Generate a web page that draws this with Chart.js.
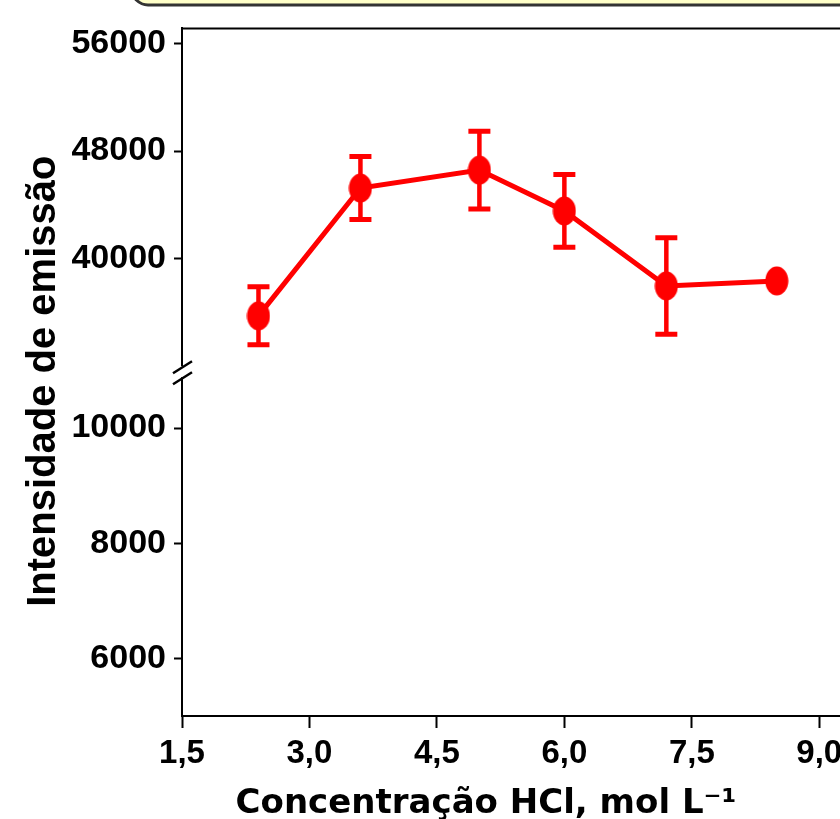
<!DOCTYPE html>
<html>
<head>
<meta charset="utf-8">
<script src="https://cdn.jsdelivr.net/npm/chart.js@4/dist/chart.umd.min.js"></script>
<style>
  html, body { margin: 0; padding: 0; background: #fff; overflow: hidden; }
  #wrap { width: 900px; height: 819px; }
</style>
</head>
<body>
<div id="wrap"><canvas id="myChart" width="900" height="819"></canvas></div>
<script>
// dados
const concentracao = [2.4, 3.6, 5.0, 6.0, 7.2, 8.5];
const intensidade = [35780, 45260, 46590, 43560, 38000, 38370];
const desvio = [2150, 2330, 2890, 2700, 3580, 0];
const xTicks = [1.5, 3.0, 4.5, 6.0, 7.5, 9.0];
const yTicksTop = [40000, 48000, 56000];
const yTicksBottom = [6000, 8000, 10000];

const red = '#ff0000';

// marcador eliptico
const dot = document.createElement('canvas');
dot.width = 24; dot.height = 30;
const dctx = dot.getContext('2d');
dctx.fillStyle = red;
dctx.beginPath();
dctx.ellipse(12, 15, 11.5, 14.5, 0, 0, Math.PI * 2);
dctx.fill();

const errorBars = {
  id: 'errorBars',
  beforeDatasetsDraw(chart) {
    const ctx = chart.ctx;
    const meta = chart.getDatasetMeta(0);
    const ys = chart.scales.yTop;
    ctx.save();
    ctx.strokeStyle = red;
    meta.data.forEach((pt, i) => {
      const e = desvio[i];
      if (!e) return;
      const top = ys.getPixelForValue(intensidade[i] + e);
      const bot = ys.getPixelForValue(intensidade[i] - e);
      ctx.lineWidth = 4.5;
      ctx.beginPath();
      ctx.moveTo(pt.x, top); ctx.lineTo(pt.x, bot);
      ctx.stroke();
      ctx.lineWidth = 5;
      ctx.beginPath();
      ctx.moveTo(pt.x - 11, top); ctx.lineTo(pt.x + 11, top);
      ctx.moveTo(pt.x - 11, bot); ctx.lineTo(pt.x + 11, bot);
      ctx.stroke();
    });
    ctx.restore();
  }
};

const decor = {
  id: 'decor',
  afterDraw(chart) {
    const ctx = chart.ctx;
    const a = chart.chartArea;
    ctx.save();
    // caixa do titulo (cortada no topo)
    ctx.fillStyle = '#ffffc8';
    ctx.strokeStyle = '#333';
    ctx.lineWidth = 3;
    ctx.beginPath();
    ctx.roundRect(132, -40, 820, 45, 16);
    ctx.fill();
    ctx.stroke();
    // linha superior do quadro
    ctx.strokeStyle = '#000';
    ctx.lineWidth = 2;
    ctx.beginPath();
    ctx.moveTo(a.left - 1, a.top); ctx.lineTo(a.right, a.top);
    ctx.stroke();
    // quebra do eixo
    const yb = Math.min(chart.scales.yTop.bottom, chart.scales.yBottom.bottom);
    ctx.fillStyle = '#fff';
    ctx.fillRect(a.left - 4, yb - 6, 8, 11);
    ctx.lineWidth = 2.5;
    ctx.beginPath();
    ctx.moveTo(a.left - 9, yb + 1); ctx.lineTo(a.left + 10, yb - 11);
    ctx.moveTo(a.left - 9, yb + 12); ctx.lineTo(a.left + 10, yb);
    ctx.stroke();
    // titulo do eixo y
    ctx.fillStyle = '#000';
    ctx.translate(44, (a.top + a.bottom) / 2 + 9);
    ctx.rotate(-Math.PI / 2);
    ctx.font = 'bold 40px "Liberation Sans", Arial, sans-serif';
    ctx.textAlign = 'center';
    ctx.textBaseline = 'middle';
    ctx.fillText('Intensidade de emissão', 0, 0);
    ctx.restore();
    // titulo do eixo x
    ctx.save();
    ctx.fillStyle = '#000';
    ctx.font = 'bold 34px "DejaVu Sans", sans-serif';
    ctx.textAlign = 'center';
    ctx.textBaseline = 'alphabetic';
    ctx.fillText('Concentração HCl, mol L⁻¹', 486, 813);
    ctx.restore();
  }
};

const tickFontY = { family: '"Liberation Sans", Arial, sans-serif', size: 34, weight: 'bold' };
const tickFontX = { family: '"Liberation Sans", Arial, sans-serif', size: 33, weight: 'bold' };

const ctx = document.getElementById('myChart').getContext('2d');
const chart = new Chart(ctx, {
  type: 'line',
  data: {
    datasets: [{
      data: concentracao.map((x, i) => ({ x: x, y: intensidade[i] })),
      borderColor: red,
      borderWidth: 5,
      pointStyle: dot,
      pointRadius: 12,
      tension: 0,
      fill: false,
      yAxisID: 'yTop'
    }]
  },
  options: {
    responsive: false,
    animation: false,
    events: [],
    layout: { padding: { top: 27, left: 0, right: 3, bottom: 0 } },
    plugins: { legend: { display: false }, tooltip: { enabled: false } },
    scales: {
      x: {
        type: 'linear',
        min: 1.5,
        max: 9.75,
        afterBuildTicks: axis => { axis.ticks = xTicks.map(v => ({ value: v })); },
        afterFit: s => { s.height = 103; },
        grid: { drawOnChartArea: false, tickLength: 12, tickWidth: 2, tickColor: '#000' },
        border: { color: '#000', width: 2 },
        ticks: {
          color: '#000', font: tickFontX, padding: 6, maxRotation: 0,
          callback: v => v.toFixed(1).replace('.', ',')
        }
      },
      yBottom: {
        type: 'linear',
        position: 'left',
        stack: 'eixo',
        stackWeight: 1,
        min: 5000,
        max: 10970,
        afterBuildTicks: axis => { axis.ticks = yTicksBottom.map(v => ({ value: v })); },
        afterFit: s => { s.width = 182; },
        grid: { drawOnChartArea: false, tickLength: 8, tickWidth: 2, tickColor: '#000' },
        border: { color: '#000', width: 2 },
        ticks: { color: '#000', font: tickFontY, padding: 8, callback: v => String(v) }
      },
      yTop: {
        type: 'linear',
        position: 'left',
        stack: 'eixo',
        stackWeight: 1,
        min: 31600,
        max: 57100,
        afterBuildTicks: axis => { axis.ticks = yTicksTop.map(v => ({ value: v })); },
        afterFit: s => { s.width = 182; },
        grid: { drawOnChartArea: false, tickLength: 8, tickWidth: 2, tickColor: '#000' },
        border: { color: '#000', width: 2 },
        ticks: { color: '#000', font: tickFontY, padding: 8, callback: v => String(v) }
      }
    }
  },
  plugins: [errorBars, decor]
});
</script>
</body>
</html>
